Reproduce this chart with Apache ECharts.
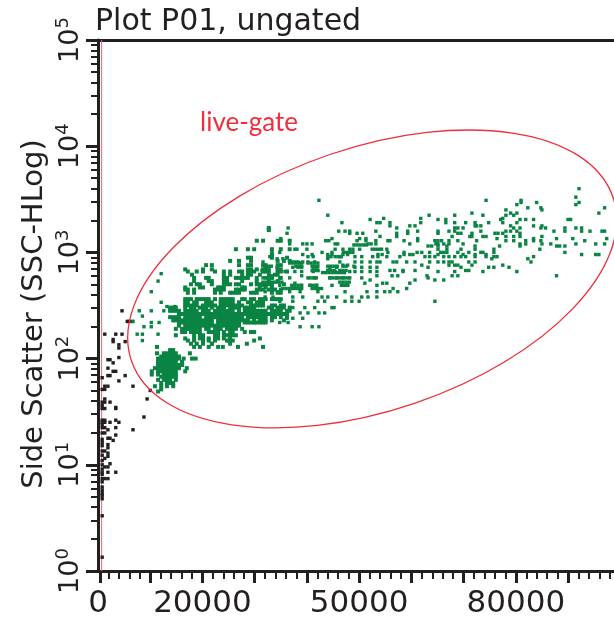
<!DOCTYPE html>
<html><head><meta charset="utf-8">
<script src="https://cdn.jsdelivr.net/npm/echarts@6/dist/echarts.min.js"></script>
<style>html,body{margin:0;padding:0;background:#fff}#c{width:614px;height:623px}</style>
</head><body><div id="c"></div>
<script>
// Rows: [log10 SSC, [FSC in thousands, ...]]
const debrisRows = [[2.45,[4.6]],[2.35,[5.6,5.9,6.5]],[2.23,[1.3,3.4,4.6]],[2.18,[2.9]],[2.16,[2.9,5.2]],[2.13,[4.0]],[2.10,[4.0]],[2.01,[4.0]],[1.99,[1.9,2.3]],[1.96,[2.9]],[1.91,[1.9]],[1.88,[2.9,3.4]],[1.84,[1.9,2.3,5.2]],[1.82,[0.8]],[1.79,[4.0]],[1.74,[1.3,1.9,6.7]],[1.71,[0.8,1.3]],[1.70,[10.0]],[1.62,[1.3,9.4]],[1.59,[0.8,1.3,2.3]],[1.56,[0.8]],[1.54,[3.4]],[1.53,[0.8,1.3,3.4]],[1.45,[8.8]],[1.42,[0.8,1.3,3.4]],[1.40,[0.8,1.3,2.3,4.0]],[1.38,[0.8]],[1.35,[0.8,1.3,3.4]],[1.33,[1.9,6.7]],[1.30,[0.8,1.3]],[1.28,[3.4]],[1.25,[1.9,2.3]],[1.24,[0.8]],[1.23,[2.9]],[1.21,[0.8]],[1.19,[1.9]],[1.18,[0.8]],[1.16,[1.9]],[1.13,[0.8,1.3]],[1.11,[1.9]],[1.09,[0.8]],[1.08,[1.9]],[1.06,[1.3]],[1.04,[0.8]],[1.01,[2.3]],[1.00,[0.8]],[0.98,[1.3,1.9]],[0.96,[0.8]],[0.93,[0.8,1.9,3.4]],[0.91,[0.8]],[0.87,[0.8,1.3,1.9]],[0.84,[0.8]],[0.79,[0.8]],[0.76,[0.8]],[0.73,[0.8]],[0.71,[0.8]],[0.68,[0.8]],[0.52,[0.8]],[0.13,[0.8]]];

const lowClusterRows = [[2.11,[11.3]],[2.08,[13.8,14.4]],[2.05,[11.3,12.6,13.2,13.8,14.4,14.9,17.6]],[2.02,[12.1,12.6,13.2,13.8,14.4,14.9,15.5]],[2.00,[11.5,12.1,12.6,13.2,13.8,14.4,14.9,15.5,16.4,18.0,18.7]],[1.97,[11.5,12.1,12.6,13.2,13.8,14.4,14.9,16.1]],[1.94,[11.5,12.1,12.6,13.2,13.8,14.4,14.9,15.5,16.1]],[1.91,[10.9,11.5,12.1,12.6,13.2,13.8,14.4,14.9,15.5,17.0]],[1.88,[10.3,11.5,12.1,12.6,13.2,13.8,14.4,14.9,16.7]],[1.85,[10.3,11.5,12.6,13.2,13.8,14.4,14.9]],[1.83,[12.1,12.6,13.2,13.8,14.4,14.9]],[1.80,[11.5,12.6,13.2,13.8,14.9]],[1.77,[12.1,13.2,13.8,14.4]],[1.74,[10.9,12.1,13.2,14.4]],[1.71,[12.1]],[1.69,[11.5]]];

const leftFringeRows = [[2.80,[12.1]],[2.73,[11.5]],[2.63,[10.2]],[2.53,[12.1]],[2.49,[13.2,14.7]],[2.45,[7.9,10.2,12.6]],[2.40,[8.5]],[2.34,[11.7,10.2]],[2.30,[8.8,10.2]],[2.23,[7.5,8.5,11.5]],[2.17,[8.5]],[2.35,[6.7]]];

const mainClusterRows = [[3.23,[32.7]],[3.21,[32.7]],[3.11,[30.4,31.6,34.4,35.0,36.7]],[3.03,[26.4,28.7,29.9,33.3,35.0,36.7]],[2.98,[33.3]],[2.95,[28.7,29.3,33.3,36.2]],[2.92,[25.3,27.0,29.3,34.4,35.6,36.7]],[2.88,[20.7,21.8,27.0,28.7,29.3,31.6,32.1,34.4,35.0]],[2.84,[16.7,20.1,21.8,28.7,29.3,30.4,31.6,32.1,32.7,34.4,35.0]],[2.82,[17.2,18.9,20.1,22.4,24.1,25.3,27.0,27.6,28.7,29.3,29.9,31.6,32.1,32.7,34.4,35.0,36.2]],[2.79,[18.0,24.1,25.3,27.6,28.7,29.3,31.0,32.7,33.9,34.4]],[2.76,[18.4,20.7,21.2,24.1,24.7,26.4,27.0,27.6,28.1,28.7,30.4,32.7,33.3,35.0]],[2.73,[18.4,21.2,21.8,24.1,24.7,27.6,30.4,32.7,34.4]],[2.70,[17.8,18.9,19.5,21.8,24.1,24.7,25.3,26.4,27.0,29.3,30.4,31.0,31.6,32.1,32.7,33.3,35.6]],[2.67,[16.7,19.5,20.1,23.0,23.5,24.1,27.6,28.1,31.0,32.1,33.3]],[2.65,[16.7,17.2,18.4,22.4,23.0,23.5,24.1,26.4,27.0,27.6,28.1,30.4,31.0,31.6,32.7,33.3,33.9,35.0]],[2.62,[17.2,18.4,22.4,23.5,25.3,25.8,26.4,27.0,29.3,29.9,30.4,33.3,34.4,35.0]],[2.56,[16.7,17.2,17.8,18.9,19.5,20.1,20.7,21.2,22.4,23.5,24.1,24.7,25.3,25.8,27.6,28.1,29.3,29.9,31.0,31.6,32.1,33.3,33.9,34.4,35.0]],[2.53,[16.7,17.2,18.4,18.9,20.7,21.2,21.8,23.5,24.1,24.7,25.3,25.8,27.0,28.7,29.3,30.4,31.0,31.6]],[2.50,[16.7,17.2,17.8,18.4,18.9,20.1,20.7,21.2,21.8,22.4,23.5,24.1,24.7,25.3,25.8,26.4,27.0,27.6,29.3,29.9,30.4,31.0,31.6,33.3,33.9,35.0,35.6]],[2.48,[13.8,14.4,14.9,16.7,17.8,18.4,19.5,20.1,20.7,21.8,23.0,23.5,24.1,25.3,25.8,26.4,27.0,28.1,28.7,29.3,29.9,32.7,33.3,34.4,35.0,35.6,36.7]],[2.45,[13.8,14.4,14.9,15.5,16.7,17.2,17.8,18.4,18.9,20.1,20.7,21.2,22.4,23.0,23.5,24.1,24.7,25.3,25.8,27.0,28.1,28.7,29.3,29.9,30.4,31.0,31.6,32.1,33.3,33.9,34.4,35.0,36.2,36.7]],[2.42,[15.5,16.1,16.7,17.2,17.8,18.4,18.9,19.5,20.1,20.7,21.2,21.8,22.4,23.0,23.5,24.1,24.7,25.3,25.8,26.4,27.0,27.6,28.1,28.7,29.3,29.9,30.4,31.0,31.6,32.1,32.7,33.3,33.9,34.4,35.0,35.6,36.2]],[2.39,[13.8,14.4,14.9,15.5,16.7,17.2,17.8,18.4,18.9,19.5,20.7,21.2,21.8,22.4,23.0,23.5,24.1,24.7,25.3,25.8,26.4,27.0,27.6,28.7,29.3,29.9,30.4,31.0,31.6,32.1,33.3,33.9,35.0,36.2]],[2.36,[14.4,14.9,15.5,16.1,16.7,17.2,17.8,18.4,18.9,19.5,20.1,20.7,21.2,21.8,23.0,23.5,24.1,24.7,25.3,25.8,26.4,27.0,27.6,28.1,28.7,29.9,31.0,31.6,32.1,33.3,35.6]],[2.34,[15.5,16.1,16.7,17.2,17.8,18.4,18.9,19.5,20.1,20.7,21.2,21.8,23.0,23.5,24.1,24.7,25.3,25.8,26.4,27.0,28.1,28.7,29.3,29.9,30.4,31.0,31.6,32.1]],[2.31,[15.5,16.7,17.2,17.8,18.4,18.9,19.5,20.1,20.7,21.2,21.8,22.4,23.0,23.5,24.1,24.7,25.3,25.8,26.4,27.0]],[2.28,[14.9,16.1,16.7,17.2,17.8,18.4,18.9,19.5,20.7,21.2,22.4,23.0,23.5,24.7,25.3,25.8,26.4,27.6]],[2.25,[16.1,16.7,17.8,18.4,18.9,19.5,21.2,21.8,22.4,23.0,24.1,25.3,25.8,28.1,29.3,29.9]],[2.22,[14.9,18.4,19.5,20.1,22.4,23.0,24.1,24.7,25.3,25.8,26.4]],[2.19,[16.7,18.4,19.5,20.1,21.2,22.4,23.0,24.1,25.3,31.0]],[2.17,[17.2,18.4,20.1,21.2,22.4,24.7,25.8,25.1,29.9]],[2.14,[17.8,18.9,20.1,21.8,25.3,21.8,28.5]],[2.11,[18.4,19.5,21.2,23.0,23.9,26.8,31.6]]];

const upperArmRows = [[3.60,[92.1]],[3.52,[91.5]],[3.49,[42.3,74.3,81.0]],[3.47,[81.0,84.0,92.1]],[3.45,[80.2,91.5]],[3.42,[82.3,84.8,97.0]],[3.40,[78.1,85.0]],[3.37,[71.6,79.0,80.2,95.9]],[3.35,[44.0,63.4,68.3,73.7,78.1,79.6]],[3.32,[54.7,61.8,77.5]],[3.31,[52.1,65.1,66.6,77.1,80.8,81.9,83.4,90.0,90.5]],[3.28,[46.7,53.4,54.0,55.9,61.8,66.6,68.3,70.4,72.2,74.8,77.5,80.2]],[3.25,[55.9,59.7,60.7,72.2,72.5,73.3,79.0,83.4,85.0]],[3.23,[36.4,57.2,68.3,68.9,69.9,79.6,80.8,84.8,85.7,89.4,91.5,92.6]],[3.20,[46.1,47.3,48.2,53.2,59.3,61.2,65.1,67.2,68.3,73.3,78.1,79.0,80.2,87.3,89.4,92.6,94.2,96.5,97.0]],[3.18,[36.2,48.2,49.6,50.7,57.2,59.3,65.1,68.9,69.5,71.6,76.0,76.6,77.5,80.8]],[3.15,[54.0,57.2,67.8,71.2,71.6,73.7,74.3,78.1,79.6,80.8,85.0]],[3.13,[35.0,44.8,50.1,51.3,61.2,76.4,83.4,87.8,90.9,97.4]],[3.11,[43.6,44.2,49.6,51.3,53.2,55.5,55.9,58.6,61.2,64.5,65.1,65.8,67.2,68.9,72.5,78.1,79.6,81.9,83.4,84.8,93.2]],[3.08,[36.7,39.2,40.0,41.0,45.4,45.9,51.7,52.3,53.2,59.7,64.7,65.1,66.2,67.2,69.9,80.8,81.9,85.0,86.7,91.5,95.3,97.0]],[3.06,[63.2,63.9,65.1,66.8,72.2,76.9,80.8,87.8,88.4,89.4]],[3.03,[37.7,38.1,40.0,45.4,46.9,48.2,48.8,50.1,55.3,65.1,66.8,69.5,72.2,75.8,84.6]],[3.00,[33.3,34.8,42.9,44.8,55.5,58.6,61.1,62.0,63.5,65.6,66.2,66.8,68.9,71.0,73.3,73.7,75.8,89.4]],[2.98,[33.3,39.2,41.0,44.0,44.8,46.9,47.8,53.6,54.4,58.6,59.7,60.3,65.1,69.9,72.2,74.3,92.6,95.3,95.9]],[2.96,[32.9,40.2,41.2,45.4,46.3,49.2,50.5,52.6,53.6,55.3,57.8,62.6,63.5,64.5,66.2,67.2,68.3,69.5,70.4,72.2,74.3,75.8,76.4,83.4]],[2.94,[34.3,35.4,44.0,75.4,82.3]],[2.91,[31.6,37.1,37.7,38.3,39.2,40.2,41.5,46.3,49.2,50.5,52.1,53.4,54.0,56.5,57.2,59.1,60.7,63.5,65.1,66.2,67.2,67.8,71.0,72.2,82.9]],[2.88,[46.9,47.8,62.0,67.2,68.3,68.9,71.6,77.5]],[2.86,[32.0,34.3,37.3,38.3,39.0,41.2,41.9,44.4,45.7,49.2,50.5,52.1,53.4,63.2,69.5,74.8,75.8,78.7]],[2.83,[34.5,42.1,44.0,55.9,56.8,58.4,60.7,70.4,71.0]],[2.82,[31.6,35.8,37.7,39.0,41.2,45.4,46.9,48.2,49.2,50.5,52.1,53.4,58.4,65.1,68.3,73.7,80.2]],[2.78,[33.3,39.0,53.4,56.3,57.4,63.0,67.8,68.9,87.8]],[2.76,[32.0,34.8,36.7,40.2,41.5,44.4,45.7,46.9,48.2,50.5,63.2]],[2.74,[52.1,60.7,64.5,66.2]],[2.71,[37.7,51.1,54.5,55.3,59.7]],[2.69,[31.6,34.8,39.0,40.6,41.9,44.8,46.9,47.8,53.4]],[2.66,[56.5,59.1]],[2.63,[32.0,34.5,36.7,38.7,42.1,47.3,51.5,53.4,54.9,55.9,57.4]],[2.58,[32.0,33.5,37.3,39.2,42.9,44.0,45.7,48.6,50.5,51.7,53.4]],[2.54,[31.6,34.8,37.3,42.1,43.4,47.3,48.6,50.0,64.5]],[2.48,[37.3,39.6,41.5,44.8,45.2]],[2.43,[38.7,40.2,42.3,43.4]],[2.38,[36.2,37.3,39.2]],[2.34,[34.8,36.4]],[2.30,[38.7,41.0,42.3]]];

const midArmRows = [[3.07,[49.0,49.6,50.2,50.8,51.4]],[3.03,[52.5,53.1,53.7,54.3]],[3.00,[47.0,47.6,48.2,48.8]],[2.96,[44.0,44.6,46.0,46.6]],[2.90,[36.7,37.3,37.9,38.5,39.0,40.2,40.8,41.4,42.1]],[2.87,[32.6,33.2,37.9,38.5,39.0,41.0,41.6,42.1,44.0,44.6,45.2,45.8,46.9,47.5,49.0]],[2.83,[31.4,32.0,32.6,41.0,41.6,42.1,44.0,44.6,45.2,46.3,46.9,47.5]],[2.81,[43.0,43.6,44.2,44.8,45.4,46.0,46.6,47.2]],[2.76,[31.6,32.2,32.8,33.4,40.6,41.2,41.8,44.4,45.0,45.6,46.2,46.8,47.4,48.0]],[2.72,[31.6,32.2,32.8,33.4,34.0,34.6,35.2,46.3,46.9,47.5,48.1]],[2.69,[37.1,37.7,38.3,38.9,40.6,41.2,41.8,46.6,47.2,47.8]],[2.66,[35.4,36.0,36.6,37.2,37.8,38.4,39.0,41.0,41.6,42.2,42.8]]];

// Gate ellipse: [FSC thousands, log10 SSC]
const gateCentre = [52.5, 2.75];
const gateMajorEnd = [98.6, 3.52];
const gateMinorEnd = [60.7, 1.58];

const thresholdFSC = 700;
const xMajorTicks = [400,10000,20000,30000,40000,50000,60000,70000,80000,90000];
const xMinorTicks = [2000,4000,6000,8000,12000,14000,16000,18000,22000,24000,26000,28000,32000,34000,36000,38000,42000,44000,46000,48000,52000,54000,56000,58000,62000,64000,66000,68000,72000,74000,76000,78000,82000,84000,86000,88000,92000,94000,96000,98000];
const xTickLabels = [0,20000,50000,80000];
const yMajorTicks = [1,10,100,1000,10000,100000];
const yMinorTicks = [2,3,4,5,6,7,8,9,20,30,40,50,60,70,80,90,200,300,400,500,600,700,800,900,2000,3000,4000,5000,6000,7000,8000,9000,20000,30000,40000,50000,60000,70000,80000,90000];
const xMax = 98800;

const toPoints = rows => rows.flatMap(([lg, xs]) => xs.map(x => [x * 1000, Math.pow(10, lg)]));
const toValue = ([k, lg]) => [k * 1000, Math.pow(10, lg)];
const ink = '#231f20', green = '#0a8442', red = '#ee2f3c';
const font = '"DejaVu Sans"';
const scatter = (name, rows, color, size) => ({ name, type: 'scatter', data: toPoints(rows), symbol: 'rect', symbolSize: size, itemStyle: { color, opacity: 1 }, silent: true, animation: false, z: 3 });

const xBase = { type: 'value', min: 0, max: xMax, splitLine: { show: false }, position: 'bottom' };
const yBase = { type: 'log', logBase: 10, min: 1, max: 100000, splitLine: { show: false }, position: 'left' };

const chart = echarts.init(document.getElementById('c'), null, { renderer: 'canvas' });
chart.setOption({
  animation: false,
  backgroundColor: '#fff',
  title: [
    { text: 'Plot P01, ungated', left: 95, top: 7, padding: 0, textStyle: { fontFamily: font, fontSize: 30, fontWeight: 'normal', color: ink } },
    { text: 'live-gate', left: 200, top: 110, padding: 0, textStyle: { fontFamily: 'Lato', fontSize: 26, fontWeight: 'normal', color: red } }
  ],
  grid: { left: 98, right: 0, top: 40, bottom: 52, containLabel: false },
  xAxis: [
    Object.assign({}, xBase, {
      axisLine: { show: true, onZero: false, lineStyle: { color: ink, width: 3 } },
      axisTick: { show: true, customValues: xMajorTicks, length: 12, lineStyle: { color: ink, width: 3 } },
      axisLabel: { show: true, customValues: xTickLabels, margin: 17, fontFamily: font, fontSize: 31, color: ink, formatter: v => String(v), hideOverlap: false }
    }),
    Object.assign({}, xBase, {
      axisLine: { show: false, onZero: false },
      axisTick: { show: true, customValues: xMinorTicks, length: 8, lineStyle: { color: ink, width: 2 } },
      axisLabel: { show: false }
    }),
    Object.assign({}, xBase, {
      position: 'top',
      axisLine: { show: true, onZero: false, lineStyle: { color: ink, width: 3 } },
      axisTick: { show: false }, axisLabel: { show: false }
    })
  ],
  yAxis: [
    Object.assign({}, yBase, {
      axisLine: { show: true, onZero: false, lineStyle: { color: ink, width: 3 } },
      axisTick: { show: true, customValues: yMajorTicks, length: 12, lineStyle: { color: ink, width: 3 } },
      axisLabel: {
        show: true, customValues: yMajorTicks, rotate: 90, margin: 14, hideOverlap: false,
        formatter: v => '{b|10}{e|' + Math.round(Math.log10(v)) + '}',
        rich: {
          b: { fontFamily: font, fontSize: 27, color: ink, verticalAlign: 'bottom', lineHeight: 30 },
          e: { fontFamily: font, fontSize: 18, color: ink, verticalAlign: 'top', lineHeight: 30 }
        }
      }
    }),
    Object.assign({}, yBase, {
      axisLine: { show: false, onZero: false },
      axisTick: { show: true, customValues: yMinorTicks, length: 7, lineStyle: { color: ink, width: 2 } },
      axisLabel: { show: false }
    })
  ],
  graphic: [{
    type: 'text', x: 34, y: 314, rotation: Math.PI / 2, silent: true,
    style: { text: 'Side Scatter (SSC-HLog)', x: 0, y: 0, align: 'center', verticalAlign: 'middle', fontFamily: font, fontSize: 29, fill: ink }
  }],
  series: [
    { type: 'line', name: 'threshold', data: [[thresholdFSC, 1], [thresholdFSC, 100000]], showSymbol: false, silent: true, lineStyle: { color: '#f0606f', width: 1 }, z: 2 },
    { type: 'custom', name: 'live-gate', silent: true, clip: false, z: 4, data: [toValue(gateCentre)],
      renderItem: (params, api) => {
        const c = api.coord(toValue(gateCentre));
        const a = api.coord(toValue(gateMajorEnd));
        const b = api.coord(toValue(gateMinorEnd));
        return {
          type: 'ellipse', x: c[0], y: c[1],
          rotation: Math.atan2(c[1] - a[1], a[0] - c[0]),
          shape: { cx: 0, cy: 0, rx: Math.hypot(a[0] - c[0], a[1] - c[1]), ry: Math.hypot(b[0] - c[0], b[1] - c[1]) },
          style: { fill: 'none', stroke: red, lineWidth: 1.3 }
        };
      }
    },
    scatter('debris', debrisRows, ink, 3.4),
    scatter('low cluster', lowClusterRows, green, 4),
    scatter('left fringe', leftFringeRows, green, 3.4),
    scatter('main cluster', mainClusterRows, green, 4),
    scatter('upper arm', upperArmRows, green, 3.4),
    scatter('mid arm', midArmRows, green, 3.4)
  ]
});
</script></body></html>
